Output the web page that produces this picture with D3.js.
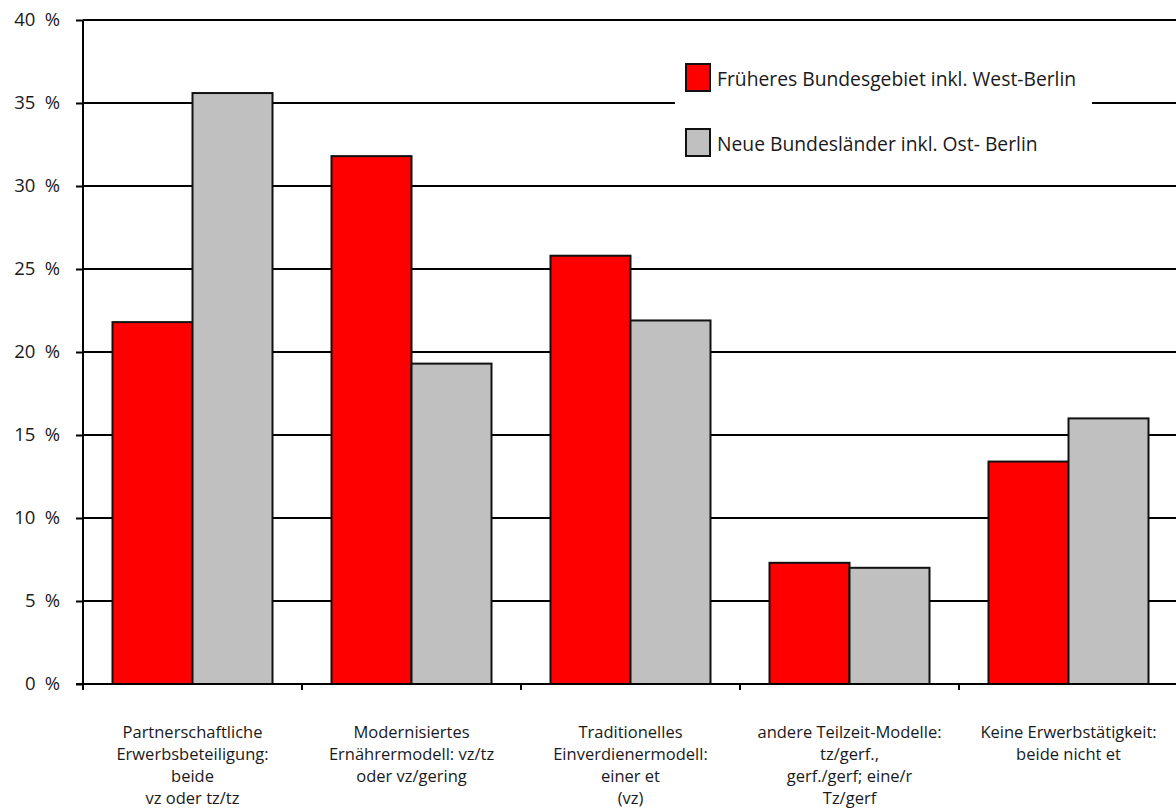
<!DOCTYPE html>
<html>
<head>
<meta charset="utf-8">
<script src="https://cdn.jsdelivr.net/npm/d3@7"></script>
<style>
  html, body { margin: 0; padding: 0; background: #fff; }
  svg { display: block; }
  text { font-family: "Open Sans", "Noto Sans", sans-serif; fill: #1a1a1a; }
</style>
</head>
<body>
<svg id="chart" width="1176" height="810"></svg>
<script>
// Categories (multi-line labels) and the two series, in percent
const categories = [
  ["Partnerschaftliche", "Erwerbsbeteiligung:", "beide", "vz oder tz/tz"],
  ["Modernisiertes", "Ernährermodell: vz/tz", "oder vz/gering"],
  ["Traditionelles", "Einverdienermodell:", "einer et", "(vz)"],
  ["andere Teilzeit-Modelle:", "tz/gerf.,", "gerf./gerf; eine/r", "Tz/gerf"],
  ["Keine Erwerbstätigkeit:", "beide nicht et"]
];
const seriesNames = [
  "Früheres Bundesgebiet inkl. West-Berlin",
  "Neue Bundesländer inkl. Ost- Berlin"
];
const westValues = [21.8, 31.8, 25.8, 7.3, 13.4];
const eastValues = [35.6, 19.3, 21.9, 7.0, 16.0];
const yTicks = [0, 5, 10, 15, 20, 25, 30, 35, 40];
const seriesColors = ["#ff0000", "#c0c0c0"];

const svg = d3.select("#chart");
const margin = { left: 83, top: 20, bottom: 126 };
const plotRight = 1178;
const height = 810;

const x0 = d3.scaleBand()
  .domain(d3.range(categories.length))
  .range([margin.left, plotRight])
  .paddingInner(0)
  .paddingOuter(0);

const innerPad = 29.5;
const x1 = d3.scaleBand()
  .domain([0, 1])
  .range([innerPad, x0.bandwidth() - innerPad]);

const y = d3.scaleLinear()
  .domain([0, 40])
  .range([height - margin.bottom, margin.top]);

// Horizontal grid lines
svg.append("g")
  .selectAll("line")
  .data(yTicks.filter(d => d > 0))
  .join("line")
  .attr("x1", margin.left)
  .attr("x2", plotRight)
  .attr("y1", d => y(d))
  .attr("y2", d => y(d))
  .attr("stroke", "#000")
  .attr("stroke-width", 2);

// Bars
const groups = svg.append("g")
  .selectAll("g")
  .data(categories.map((c, i) => [westValues[i], eastValues[i]]))
  .join("g")
  .attr("transform", (d, i) => `translate(${x0(i)},0)`);

groups.selectAll("rect")
  .data(d => d.map((v, s) => ({ v, s })))
  .join("rect")
  .attr("x", d => x1(d.s))
  .attr("width", x1.bandwidth())
  .attr("y", d => y(d.v))
  .attr("height", d => y(0) - y(d.v))
  .attr("fill", d => seriesColors[d.s])
  .attr("stroke", "#111")
  .attr("stroke-width", 2);

// Y axis
const yAxis = d3.axisLeft(y)
  .tickValues(yTicks)
  .tickFormat(d => d + "\u2002%")
  .tickSize(7)
  .tickPadding(16);

const gy = svg.append("g")
  .attr("transform", `translate(${margin.left},0)`)
  .call(yAxis);
gy.select(".domain").attr("stroke", "#000").attr("stroke-width", 2)
  .attr("d", `M0,${y(0)}V${y(40)}`);
gy.selectAll(".tick line").attr("stroke", "#000").attr("stroke-width", 2);
gy.selectAll(".tick text")
  .style("font-size", "18.5px")
  .attr("fill", "#1a1a1a");

// X axis (category boundary ticks)
const xAxis = svg.append("g");
xAxis.append("line")
  .attr("x1", margin.left - 7)
  .attr("x2", plotRight)
  .attr("y1", y(0))
  .attr("y2", y(0))
  .attr("stroke", "#000")
  .attr("stroke-width", 2);
xAxis.selectAll("line.tick")
  .data(d3.range(categories.length))
  .join("line")
  .attr("class", "tick")
  .attr("x1", i => x0(i))
  .attr("x2", i => x0(i))
  .attr("y1", y(0))
  .attr("y2", y(0) + 6)
  .attr("stroke", "#000")
  .attr("stroke-width", 2);

// Category labels
const labels = svg.append("g")
  .selectAll("text")
  .data(categories)
  .join("text")
  .attr("text-anchor", "middle")
  .style("font-size", "16.5px")
  .attr("transform", (d, i) => `translate(${x0(i) + x0.bandwidth() / 2},738)`);
labels.selectAll("tspan")
  .data(d => d)
  .join("tspan")
  .attr("x", 0)
  .attr("dy", (d, i) => i === 0 ? 0 : 22)
  .text(d => d);

// Legend
const legend = svg.append("g");
legend.append("rect")
  .attr("x", 675)
  .attr("y", 50)
  .attr("width", 417)
  .attr("height", 120)
  .attr("fill", "#fff");
const items = legend.selectAll("g.item")
  .data(seriesNames)
  .join("g")
  .attr("class", "item")
  .attr("transform", (d, i) => `translate(686,${64 + i * 65})`);
items.append("rect")
  .attr("width", 24)
  .attr("height", 27)
  .attr("fill", (d, i) => seriesColors[i])
  .attr("stroke", "#111")
  .attr("stroke-width", 2);
items.append("text")
  .attr("x", 31)
  .attr("y", 22)
  .style("font-size", "19.3px")
  .text(d => d);
</script>
</body>
</html>
